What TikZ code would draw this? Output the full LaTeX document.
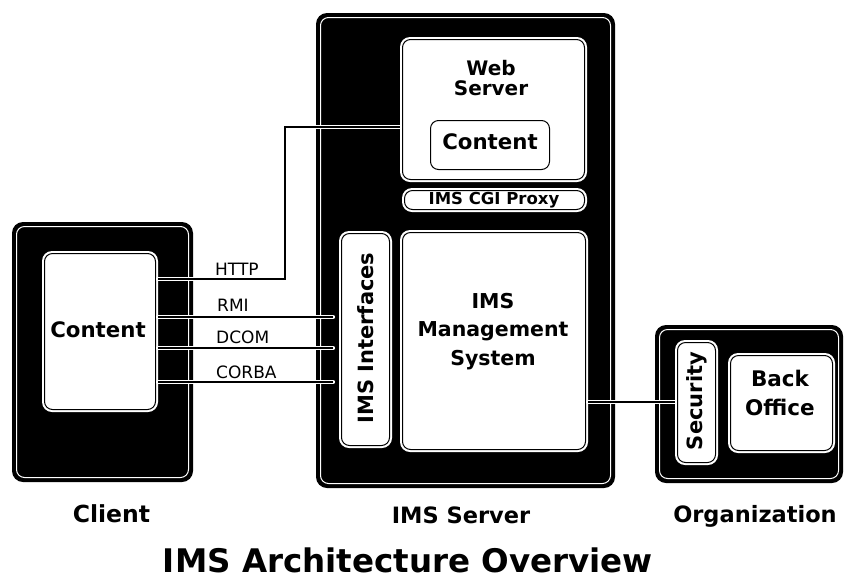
\documentclass[tikz,border=0pt]{standalone}
\usepackage{fontspec}
\setmainfont{DejaVu Sans}
\begin{document}
\begin{tikzpicture}[x=1pt,y=-1pt,
  outerbox/.style={fill=black, draw=none, rounded corners=11pt, inner sep=0pt,
    path picture={\draw[white, line width=1pt, rounded corners=8pt]
      ([shift={(4.5pt,-4.5pt)}]path picture bounding box.north west) rectangle
      ([shift={(-4.5pt,4.5pt)}]path picture bounding box.south east);}},
  innerbox/.style={fill=white, draw=none, rounded corners=10pt, inner sep=0pt,
    path picture={\draw[black, line width=1pt, rounded corners=8pt]
      ([shift={(2.5pt,-2.5pt)}]path picture bounding box.north west) rectangle
      ([shift={(-2.5pt,2.5pt)}]path picture bounding box.south east);}},
  boxtext/.style={font=\bfseries\fontsize{21.3}{28.5}\selectfont, align=center, inner sep=0pt},
  toptext/.style={font=\bfseries\fontsize{22.5}{24}\selectfont, inner sep=0pt, anchor=base},
  conntext/.style={font=\fontsize{17}{18}\selectfont, inner sep=0pt, anchor=west},
  conn/.style={black, line width=1.4pt, preaction={draw=white, line width=4.6pt, line cap=round}}
]
\useasboundingbox (0,0) rectangle (845,582);
% outer boxes
\node[outerbox, minimum width=181, minimum height=260] (client) at (102.5,352) {};
\node[outerbox, minimum width=299, minimum height=475] (server) at (465.5,250.5) {};
\node[outerbox, minimum width=188, minimum height=158] (org) at (749,404) {};
% inner boxes
\node[innerbox, minimum width=116, minimum height=161] (cc) at (100,331.5) {};
\node[boxtext] (cctext) at (98,330) {Content};
\node[innerbox, minimum width=187, minimum height=145] (web) at (493.5,109.5) {};
\node[boxtext, font=\bfseries\fontsize{20}{20.5}\selectfont] (webtext) at (491,78) {Web\\Server};
\node[innerbox, minimum width=124, minimum height=54, rounded corners=11pt] (wc) at (490,145) {};
\node[boxtext] (wctext) at (490,142) {Content};
\node[innerbox, minimum width=185, minimum height=24] (cgi) at (494.5,200) {};
\node[boxtext, font=\bfseries\fontsize{16.5}{18}\selectfont] (cgitext) at (494,200) {IMS CGI Proxy};
\node[innerbox, minimum width=53, minimum height=217] (ifc) at (365.5,339.5) {};
\node[boxtext, rotate=90, font=\bfseries\fontsize{21}{22}\selectfont] (ifctext) at (366,338) {IMS Interfaces};
\node[innerbox, minimum width=188, minimum height=222] (mgmt) at (494,341) {};
\node[boxtext, font=\bfseries\fontsize{20.5}{28.5}\selectfont] (mgmttext) at (493,331.5) {IMS\\Management\\System};
\node[innerbox, minimum width=43, minimum height=125] (sec) at (696.5,402.5) {};
\node[boxtext, rotate=90, font=\bfseries\fontsize{21}{22}\selectfont] (sectext) at (697,401) {Security};
\node[innerbox, minimum width=107, minimum height=100] (back) at (781.5,403) {};
\node[boxtext, font=\bfseries\fontsize{21.5}{29}\selectfont] (backtext) at (780,392.5) {Back\\Office};
% connectors
\draw[conn] (cc.east |- 0,279) -- (285,279) -- (285,127) -- (web.west |- 0,127);
\draw[conn] (cc.east |- 0,317) -- ([xshift=-6pt]ifc.west |- 0,317);
\draw[conn] (cc.east |- 0,348) -- ([xshift=-6pt]ifc.west |- 0,348);
\draw[conn] (cc.east |- 0,382) -- ([xshift=-6pt]ifc.west |- 0,382);
\draw[conn] (mgmt.east |- 0,402) -- (sec.west |- 0,402);
% connector labels
\node[conntext] (lhttp) at (215,269) {HTTP};
\node[conntext] (lrmi) at (217,305) {RMI};
\node[conntext] (ldcom) at (216,337) {DCOM};
\node[conntext] (lcorba) at (216,372) {CORBA};
% captions
\node[toptext, font=\bfseries\fontsize{23.5}{24}\selectfont] (lclient) at (111.5,522) {Client};
\node[toptext] (lserver) at (461,523) {IMS Server};
\node[toptext] (lorg) at (755,522) {Organization};
\node[font=\bfseries\fontsize{32.5}{34}\selectfont, inner sep=0pt] (title) at (408,560) {IMS Architecture Overview};
\end{tikzpicture}
\end{document}
